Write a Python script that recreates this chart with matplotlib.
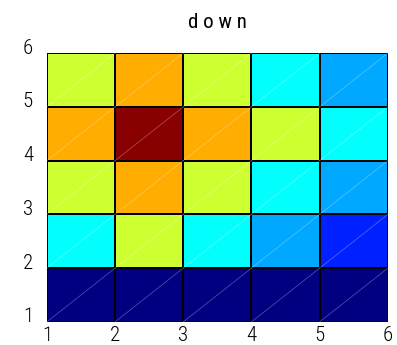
import numpy as np
import matplotlib as mpl
import matplotlib.pyplot as plt
from matplotlib.colors import LinearSegmentedColormap
from matplotlib.transforms import ScaledTranslation

mpl.rcParams['font.family'] = ['Roboto Condensed', 'PT Sans Narrow', 'DejaVu Sans']
mpl.rcParams['font.weight'] = 'light'

# grid edges and cell values (bottom row first), on a 0..1 jet scale
x_edges = [1, 2, 3, 4, 5, 6]
y_edges = [1, 2, 3, 4, 5, 6]
values = [
    [0.00, 0.00, 0.00, 0.00, 0.00],
    [0.375, 0.575, 0.375, 0.29, 0.16],
    [0.575, 0.705, 0.575, 0.375, 0.29],
    [0.705, 0.99, 0.705, 0.575, 0.375],
    [0.575, 0.705, 0.575, 0.375, 0.29],
]
title = "d o w n"

# classic jet with its anchor points
jet = LinearSegmentedColormap.from_list('jet_classic', [
    (0.0, (0, 0, 0.5)), (0.125, (0, 0, 1)), (0.375, (0, 1, 1)),
    (0.625, (1, 1, 0)), (0.875, (1, 0, 0)), (1.0, (0.5, 0, 0))])

fig = plt.figure(figsize=(3.97, 3.45), dpi=100)
ax = fig.add_axes([0.118, 0.067, 0.859, 0.779])

X, Y = np.meshgrid(x_edges, y_edges)
ax.pcolormesh(X, Y, np.array(values), cmap=jet, vmin=0, vmax=1,
              edgecolors='black', linewidth=1.2)

# faint diagonal seams across each cell
for i in range(len(x_edges) - 1):
    for j in range(len(y_edges) - 1):
        ax.plot([x_edges[i], x_edges[i + 1]], [y_edges[j], y_edges[j + 1]],
                color='white', lw=0.5, alpha=0.35)

ax.set_xlim(x_edges[0], x_edges[-1])
ax.set_ylim(y_edges[0], y_edges[-1])
ax.set_xticks(x_edges)
ax.set_yticks(y_edges)
for s in ax.spines.values():
    s.set_visible(False)
ax.tick_params(length=0, labelsize=15, pad=3)
ax.tick_params(axis='y', pad=10)
up = ScaledTranslation(0, 5 / 72, fig.dpi_scale_trans)
for lbl in ax.get_yticklabels():
    lbl.set_transform(lbl.get_transform() + up)
ax.set_title(title, fontsize=15, pad=18)

plt.savefig('out.png', dpi=100)
